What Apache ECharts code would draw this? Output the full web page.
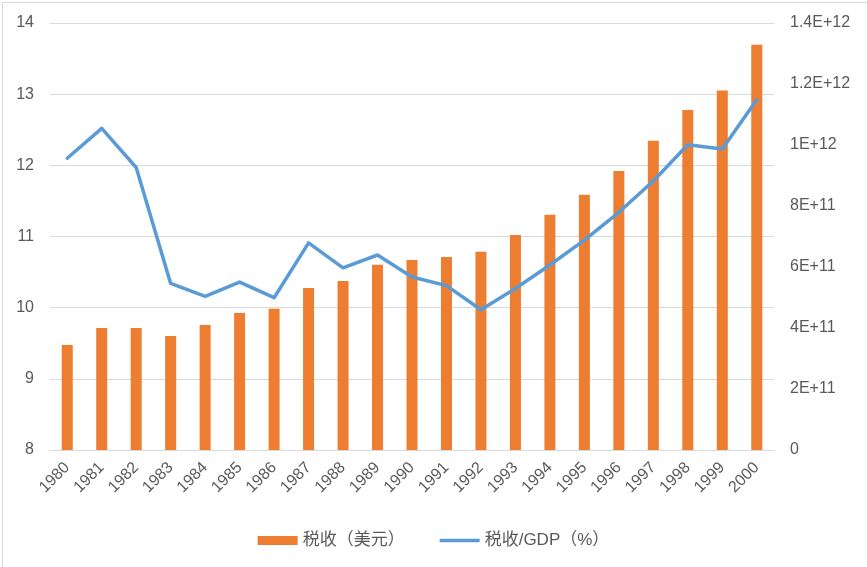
<!DOCTYPE html>
<html>
<head>
<meta charset="utf-8">
<script src="https://cdn.jsdelivr.net/npm/echarts@6/dist/echarts.min.js"></script>
<style>
html,body{margin:0;padding:0;background:#fff;}
#c{width:867px;height:567px;}
</style>
</head>
<body>
<div id="c"></div>
<script>
const years = ['1980','1981','1982','1983','1984','1985','1986','1987','1988','1989','1990','1991','1992','1993','1994','1995','1996','1997','1998','1999','2000'];
// 税收（美元）, in units of 1E+11 dollars
const taxRevenue = [3.44,4.00,4.00,3.74,4.10,4.49,4.63,5.31,5.54,6.07,6.23,6.33,6.50,7.05,7.71,8.37,9.15,10.14,11.15,11.79,13.29];
// 税收/GDP（%）
const taxToGdp = [12.10,12.52,11.97,10.34,10.16,10.36,10.14,10.91,10.56,10.74,10.43,10.31,9.97,10.27,10.60,10.95,11.34,11.78,12.29,12.23,12.92];
const leftTicks = {min: 8, max: 14, interval: 1};
const rightTicks = {min: 0, max: 1.4e12, interval: 2e11};

const FONT = '"Liberation Sans", "Noto Sans CJK SC", sans-serif';
const chart = echarts.init(document.getElementById('c'), null, {renderer: 'canvas'});
chart.setOption({
  animation: false,
  backgroundColor: '#fff',
  textStyle: {fontFamily: FONT},
  graphic: [{
    type: 'rect', left: 0, top: 0, silent: true,
    shape: {x: 0.5, y: 0.5, width: 866, height: 566},
    style: {fill: 'none', stroke: '#d9d9d9', lineWidth: 1}
  }],
  grid: {left: 50, right: 93, top: 23, bottom: 117, containLabel: false},
  legend: {
    top: 527, left: 'center',
    itemWidth: 40, itemHeight: 9, itemGap: 35,
    textStyle: {color: '#595959', fontSize: 17, fontFamily: FONT},
    data: [
      {name: '税收（美元）', icon: 'rect'},
      {name: '税收/GDP（%）',
       icon: 'path://M0,0L40,0L40,0Z M0,2.8L40,2.8L40,6.2L0,6.2Z M0,9L40,9L40,9Z',
       itemStyle: {color: '#5B9BD5', borderWidth: 0}}
    ]
  },
  xAxis: {
    type: 'category', data: years,
    axisLine: {lineStyle: {color: '#d9d9d9', width: 1}},
    axisTick: {show: false},
    axisLabel: {rotate: 45, color: '#595959', fontSize: 16, margin: 15, interval: 0, fontFamily: FONT}
  },
  yAxis: [{
    type: 'value', min: leftTicks.min, max: leftTicks.max, interval: leftTicks.interval,
    axisLine: {show: false}, axisTick: {show: false},
    splitLine: {lineStyle: {color: '#d9d9d9', width: 1}},
    axisLabel: {color: '#595959', fontSize: 16, margin: 16, fontFamily: FONT}
  }, {
    type: 'value', min: rightTicks.min, max: rightTicks.max, interval: rightTicks.interval,
    position: 'right',
    axisLine: {show: false}, axisTick: {show: false},
    splitLine: {show: false},
    axisLabel: {
      color: '#595959', fontSize: 16, margin: 16, fontFamily: FONT,
      formatter: v => v === 0 ? '0' : v.toExponential().replace('e', 'E')
    }
  }],
  series: [{
    name: '税收（美元）', type: 'bar', yAxisIndex: 1,
    data: taxRevenue.map(v => v * 1e11),
    barWidth: 11,
    itemStyle: {color: '#ED7D31'}
  }, {
    name: '税收/GDP（%）', type: 'line', yAxisIndex: 0,
    data: taxToGdp,
    symbol: 'none', showSymbol: false,
    lineStyle: {color: '#5B9BD5', width: 3.5, cap: 'round', join: 'round'},
    itemStyle: {color: '#5B9BD5'}
  }]
});
</script>
</body>
</html>
